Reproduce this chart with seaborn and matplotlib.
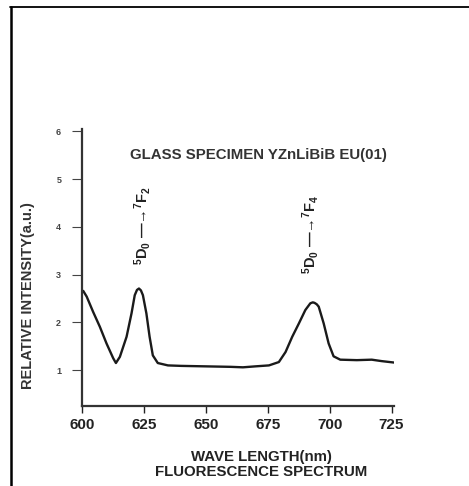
import matplotlib
matplotlib.use("Agg")
import matplotlib.pyplot as plt
from matplotlib.lines import Line2D
import seaborn as sns
import pandas as pd

# ---- data ----
wavelength = [600.5, 601.9, 604.5, 607.2, 609.9, 612.6, 613.7, 615.3, 618.0, 620.0,
              621.3, 622.2, 623.0, 623.8, 624.6, 626.0, 627.3, 628.6, 630.6, 634.7,
              640.0, 650.0, 660.0, 665.0, 670.0, 675.5, 679.5, 682.2, 684.9, 687.6,
              690.2, 692.2, 693.2, 693.9, 694.8, 695.6, 697.6, 699.6, 701.6, 704.3,
              711.0, 717.0, 721.0, 726.0]
intensity = [2.66, 2.54, 2.22, 1.91, 1.56, 1.25, 1.15, 1.28, 1.70, 2.19,
             2.57, 2.68, 2.71, 2.67, 2.57, 2.19, 1.70, 1.31, 1.15, 1.10,
             1.09, 1.08, 1.07, 1.06, 1.08, 1.10, 1.17, 1.38, 1.70, 1.98,
             2.26, 2.40, 2.42, 2.41, 2.38, 2.33, 1.98, 1.56, 1.29, 1.22,
             1.21, 1.22, 1.19, 1.16]
x_ticks = [600, 625, 650, 675, 700, 725]
y_ticks = [1, 2, 3, 4, 5, 6]
title_text = "GLASS SPECIMEN YZnLiBiB EU(01)"
y_label = "RELATIVE INTENSITY(a.u.)"
x_label = "WAVE LENGTH(nm)\nFLUORESCENCE SPECTRUM"
annot_text = ["$^{5}$D$_{0}$ \u2014\u2192$^{7}$F$_{2}$",
              "$^{5}$D$_{0}$ \u2014\u2192$^{7}$F$_{4}$"]
annot_x = [624.5, 692.4]
annot_y = [4.02, 3.85]

df = pd.DataFrame({"wavelength": wavelength, "intensity": intensity})

sns.set_style("ticks")
plt.rcParams["font.family"] = ["Liberation Sans", "DejaVu Sans"]
plt.rcParams["font.weight"] = "bold"
plt.rcParams["mathtext.fontset"] = "custom"
plt.rcParams["mathtext.rm"] = "Liberation Sans:bold"
plt.rcParams["mathtext.it"] = "Liberation Sans:bold"
plt.rcParams["mathtext.bf"] = "Liberation Sans:bold"

W, H = 469, 486
fig = plt.figure(figsize=(W / 100, H / 100), dpi=100)
ax_l, ax_r, ax_t, ax_b = 82, 394, 129, 406
ax = fig.add_axes([ax_l / W, 1 - ax_b / H, (ax_r - ax_l) / W, (ax_b - ax_t) / H])

sns.lineplot(data=df, x="wavelength", y="intensity", ax=ax, color="#1a1a1a",
             linewidth=1.7, estimator=None)
for ln in ax.get_lines():
    ln.set_solid_joinstyle("round")

ax.set_xlim(600, 726)
ax.set_ylim(0.25, 6.05)
ax.set_xticks(x_ticks)
ax.set_yticks(y_ticks)
ax.tick_params(axis="x", length=5, width=1.0, pad=3.5, labelsize=11, colors="#222222")
ax.tick_params(axis="y", length=7, width=0.8, pad=8, labelsize=6.5, colors="#444444")
for lab in ax.get_xticklabels() + ax.get_yticklabels():
    lab.set_fontweight("bold")
sns.despine(ax=ax)
for s in ["left", "bottom"]:
    ax.spines[s].set_linewidth(1.6)
    ax.spines[s].set_color("#333333")

ax.set_ylabel(y_label, fontsize=10.5, fontweight="bold", color="#333333")
ax.yaxis.set_label_coords(-0.15, 0.40)
ax.set_xlabel(x_label, fontsize=10.8, fontweight="bold", color="#222222", linespacing=1.1)
ax.xaxis.set_label_coords(0.574, -0.16)

ax.text(0.564, 0.906, title_text, transform=ax.transAxes, ha="center", va="center",
        fontsize=10.8, fontweight="bold", color="#333333")

for t, xx, yy in zip(annot_text, annot_x, annot_y):
    ax.text(xx, yy, t, rotation=90, ha="center", va="center", fontsize=10.5,
            color="#222222")

# frame lines of the scanned figure
fig.add_artist(Line2D([10 / W, 1], [1 - 7 / H, 1 - 7 / H], transform=fig.transFigure,
                      color="black", linewidth=1.3))
fig.add_artist(Line2D([11 / W, 11 / W], [1 - 7 / H, 0], transform=fig.transFigure,
                      color="black", linewidth=1.8))

fig.savefig("out.png", dpi=100)
